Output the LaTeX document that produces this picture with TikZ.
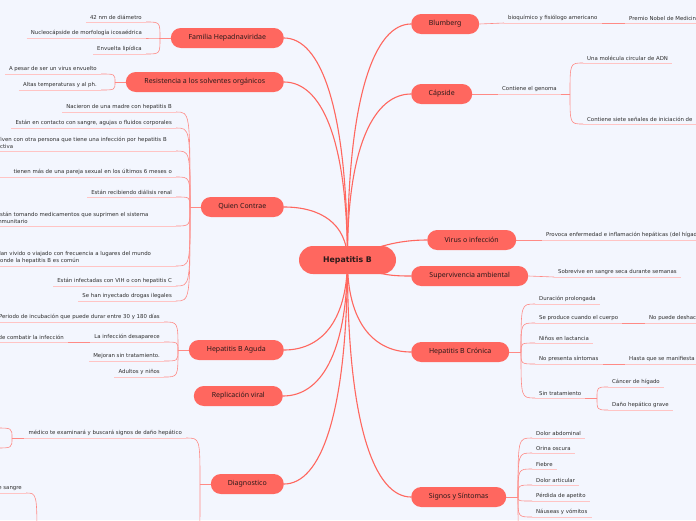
\documentclass[tikz,border=0pt]{standalone}
\usepackage{fontspec}
\setmainfont{Noto Sans}
\newfontfamily\leaffont{DejaVu Sans}
\newfontfamily\rootfont{DejaVu Sans}
\usetikzlibrary{positioning}
\definecolor{paper}{HTML}{F3F6FE}
\definecolor{coral}{HTML}{FF675F}
\definecolor{twigred}{HTML}{FF8A85}
\definecolor{linepink}{HTML}{FFC4C4}
\definecolor{ink}{HTML}{2B1A1A}
\definecolor{leafink}{HTML}{2E2E2E}
\pgfdeclarelayer{lines}
\pgfsetlayers{lines,main}

\begin{document}
\begin{tikzpicture}
[x=1pt,y=-1pt,
 topic/.style={rectangle,rounded corners=10pt,fill=coral,text=ink,minimum height=20pt,inner sep=2pt,font=\fontsize{7}{8}\selectfont},
 root/.style={topic,rounded corners=14pt,minimum height=28pt,font=\rootfont\bfseries\fontsize{7.8}{10}\selectfont},
 leaf/.style={inner xsep=4pt,inner ysep=2pt,text=leafink,font=\leaffont\fontsize{5.4}{7.5}\selectfont},
 trunk/.style={coral,line width=1.1pt},
 twig/.style={twigred,line width=0.6pt},
 uline/.style={linepink,line width=0.6pt}]
\useasboundingbox (0,0) rectangle (696,520);
% centre and main topics
\node[root,minimum width=97pt] (hb) at (347.5,260) {Hepatitis B};
\node[topic,anchor=east,minimum width=113pt] (fam) at (284,38) {Familia Hepadnaviridae};
\node[topic,anchor=east,minimum width=158pt] (res) at (284,82) {Resistencia a los solventes orgánicos};
\node[topic,anchor=east,minimum width=83pt] (qui) at (284,207) {Quien Contrae};
\node[topic,anchor=east,minimum width=95pt] (agu) at (284,350) {Hepatitis B Aguda};
\node[topic,anchor=east,minimum width=89pt] (rep) at (283,396) {Replicación viral};
\node[topic,anchor=east,minimum width=73pt] (dia) at (284,484) {Diagnostico};
\node[topic,anchor=west,minimum width=68pt] (blu) at (411,24) {Blumberg};
\node[topic,anchor=west,minimum width=61pt] (cap) at (411,94) {Cápside};
\node[topic,anchor=west,minimum width=89pt] (vir) at (427,240) {Virus o infección};
\node[topic,anchor=west,minimum width=117pt] (sup) at (411,276) {Supervivencia ambiental};
\node[topic,anchor=west,minimum width=98pt] (cro) at (411,352) {Hepatitis B Crónica};
\node[topic,anchor=west,minimum width=95pt] (sig) at (411,497) {Signos y Síntomas};
% left leaves
\node[leaf,anchor=south east] (f1) at (146,22) {42 nm de diámetro};
\node[leaf,anchor=south east] (f2) at (146,38) {Nucleocápside de morfología icosaédrica};
\node[leaf,anchor=south east] (f3) at (146,54) {Envuelta lipídica};
\node[leaf,anchor=south east] (r1) at (101,74) {A pesar de ser un virus envuelto};
\node[leaf,anchor=south east] (r2) at (101,90) {Altas temperaturas y al ph.};
\node[leaf,anchor=south east] (q1) at (176,112) {Nacieron de una madre con hepatitis B};
\node[leaf,anchor=south east] (q2) at (176,128) {Están en contacto con sangre, agujas o fluidos corporales};
\node[leaf,anchor=south east,text width=175pt,align=left] (q3) at (176,151) {Viven con otra persona que tiene una infección por hepatitis B\\activa};
\node[leaf,anchor=south east,text width=175pt,align=right] (q4) at (176,177) {tienen más de una pareja sexual en los últimos 6 meses o};
\node[leaf,anchor=south east] (q5) at (176,197) {Están recibiendo diálisis renal};
\node[leaf,anchor=south east,text width=175pt,align=left] (q6) at (176,226) {Están tomando medicamentos que suprimen el sistema\\inmunitario};
\node[leaf,anchor=south east,text width=175pt,align=left] (q7) at (176,266) {Han vivido o viajado con frecuencia a lugares del mundo\\donde la hepatitis B es común};
\node[leaf,anchor=south east] (q8) at (176,286) {Están infectadas con VIH o con hepatitis C};
\node[leaf,anchor=south east] (q9) at (176,301) {Se han inyectado drogas ilegales};
\node[leaf,anchor=south east] (a1) at (164,322) {Periodo de incubación que puede durar entre 30 y 180 días};
\node[leaf,anchor=south east] (a2) at (164,342) {La infección desaparece};
\node[leaf,anchor=south east] (a2c) at (68,342) {de combatir la infección};
\node[leaf,anchor=south east] (a3) at (164,361) {Mejoran sin tratamiento.};
\node[leaf,anchor=south east] (a4) at (164,377) {Adultos y niños};
\node[leaf,anchor=south east] (d1) at (186,438) {médico te examinará y buscará signos de daño hepático};
\node[leaf,anchor=south east] (d2) at (26,493) {de sangre};
% right leaves
\node[leaf,anchor=south west] (b1) at (504,23) {bioquímico y fisiólogo americano};
\node[leaf,anchor=south west] (b2) at (625,23) {Premio Nobel de Medicina};
\node[leaf,anchor=south west] (c1) at (498,94) {Contiene el genoma};
\node[leaf,anchor=south west] (c2) at (583,63) {Una molécula circular de ADN};
\node[leaf,anchor=south west] (c3) at (583,124) {Contiene siete señales de iniciación de};
\node[leaf,anchor=south west] (v1) at (542,240) {Provoca enfermedad e inflamación hepáticas (del hígado)};
\node[leaf,anchor=south west] (s1) at (554,277) {Sobrevive en sangre seca durante semanas};
\node[leaf,anchor=south west] (k1) at (535,304) {Duración prolongada};
\node[leaf,anchor=south west] (k2) at (535,323) {Se produce cuando el cuerpo};
\node[leaf,anchor=south west] (k2c) at (645,323) {No puede deshacerse};
\node[leaf,anchor=south west] (k3) at (535,343) {Niños en lactancia};
\node[leaf,anchor=south west] (k4) at (535,364) {No presenta síntomas};
\node[leaf,anchor=south west] (k4c) at (625,364) {Hasta que se manifiesta};
\node[leaf,anchor=south west] (k5) at (535,398) {Sin tratamiento};
\node[leaf,anchor=south west] (k6) at (608,387) {Cáncer de hígado};
\node[leaf,anchor=south west] (k7) at (608,410) {Daño hepático grave};
\node[leaf,anchor=south west] (g1) at (532,438) {Dolor abdominal};
\node[leaf,anchor=south west] (g2) at (532,453) {Orina oscura};
\node[leaf,anchor=south west] (g3) at (532,469) {Fiebre};
\node[leaf,anchor=south west] (g4) at (532,485) {Dolor articular};
\node[leaf,anchor=south west] (g5) at (532,501) {Pérdida de apetito};
\node[leaf,anchor=south west] (g6) at (532,517) {Náuseas y vómitos};
% branch points
\coordinate (famj) at (160,38);
\coordinate (resj) at (115,82);
\coordinate (quij) at (190,207);
\coordinate (aguj) at (178,350);
\coordinate (diaj) at (200,484);
\coordinate (d1j) at (12,438);
\coordinate (d1a) at (-4,428);
\coordinate (d1b) at (-4,448);
\coordinate (d3) at (187,565);
\coordinate (d2j) at (37,545);
\coordinate (capj) at (570,94);
\coordinate (croj) at (521,352);
\coordinate (k5j) at (597,398);
\coordinate (sigj) at (518,497);
\coordinate (g7) at (532,545);
\begin{pgfonlayer}{lines}
\fill[paper] (0,0) rectangle (696,520);
% trunks
\draw[trunk] (fam.east) .. controls (320,38) and (347,105) .. (hb.center);
\draw[trunk] (res.east) .. controls (320,82) and (347,135) .. (hb.center);
\draw[trunk] (qui.east) .. controls (320,207) and (347,223) .. (hb.center);
\draw[trunk] (agu.east) .. controls (320,350) and (347,323) .. (hb.center);
\draw[trunk] (rep.east) .. controls (320,396) and (347,355) .. (hb.center);
\draw[trunk] (dia.east) .. controls (320,484) and (347,417) .. (hb.center);
\draw[trunk] (hb.center) .. controls (347,95) and (375,24) .. (blu.west);
\draw[trunk] (hb.center) .. controls (347,144) and (375,94) .. (cap.west);
\draw[trunk] (hb.center) .. controls (375,246) and (400,240) .. (vir.west);
\draw[trunk] (hb.center) .. controls (375,275) and (390,276) .. (sup.west);
\draw[trunk] (hb.center) .. controls (347,324) and (375,352) .. (cro.west);
\draw[trunk] (hb.center) .. controls (347,426) and (375,497) .. (sig.west);
% twigs on the left
\draw[twig] (fam.west) -- (famj);
\foreach \n in {f1,f2,f3} \draw[twig] (famj) .. controls (famj |- \n.south east) .. (\n.south east);
\draw[twig] (res.west) -- (resj);
\foreach \n in {r1,r2} \draw[twig] (resj) .. controls (resj |- \n.south east) .. (\n.south east);
\draw[twig] (qui.west) -- (quij);
\foreach \n in {q1,q2,q3,q4,q5,q6,q7,q8,q9} \draw[twig] (quij) .. controls (quij |- \n.south east) .. (\n.south east);
\draw[twig] (agu.west) -- (aguj);
\foreach \n in {a1,a2,a3,a4} \draw[twig] (aguj) .. controls (aguj |- \n.south east) .. (\n.south east);
\draw[twig] (a2.south west) -- (a2c.south east);
\draw[twig] (dia.west) -- (diaj);
\draw[twig] (diaj) .. controls (diaj |- d1.south east) .. (d1.south east);
\draw[twig] (diaj) .. controls (diaj |- d3) .. (d3);
\draw[twig] (d1.south west) -- (d1j);
\foreach \n in {d1a,d1b} \draw[twig] (d1j) .. controls (d1j |- \n) .. (\n);
\draw[twig] (d2j) .. controls (d2j |- d2.south east) .. (d2.south east);
% twigs on the right
\draw[twig] (blu.east) -- (b1.south west);
\draw[twig] (b1.south east) -- (b2.south west);
\draw[twig] (cap.east) -- (c1.south west);
\draw[twig] (c1.south east) -- (capj);
\foreach \n in {c2,c3} \draw[twig] (capj) .. controls (capj |- \n.south west) .. (\n.south west);
\draw[twig] (vir.east) -- (v1.south west);
\draw[twig] (sup.east) -- (s1.south west);
\draw[twig] (cro.east) -- (croj);
\foreach \n in {k1,k2,k3,k4,k5} \draw[twig] (croj) .. controls (croj |- \n.south west) .. (\n.south west);
\draw[twig] (k2.south east) -- (k2c.south west);
\draw[twig] (k4.south east) -- (k4c.south west);
\draw[twig] (k5.south east) -- (k5j);
\foreach \n in {k6,k7} \draw[twig] (k5j) .. controls (k5j |- \n.south west) .. (\n.south west);
\draw[twig] (sig.east) -- (sigj);
\foreach \n in {g1,g2,g3,g4,g5,g6} \draw[twig] (sigj) .. controls (sigj |- \n.south west) .. (\n.south west);
\draw[twig] (sigj) .. controls (sigj |- g7) .. (g7);
% underlines
\foreach \n in {f1,f2,f3,r1,r2,q1,q2,q3,q4,q5,q6,q7,q8,q9,a1,a2,a2c,a3,a4,d1,d2,b1,b2,c1,c2,c3,v1,s1,k1,k2,k2c,k3,k4,k4c,k5,k6,k7,g1,g2,g3,g4,g5,g6}
  \draw[uline] (\n.south west) -- (\n.south east);
\end{pgfonlayer}
\end{tikzpicture}
\end{document}
